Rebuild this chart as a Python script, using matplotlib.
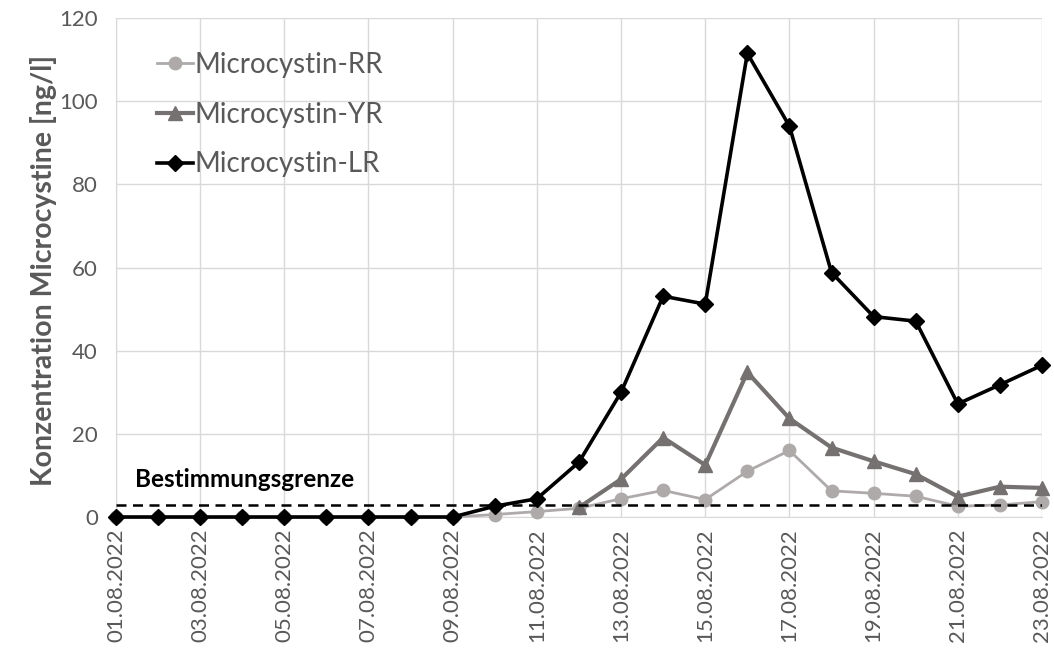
import matplotlib
matplotlib.use("Agg")
import matplotlib.pyplot as plt
import numpy as np

dates = ["%02d.08.2022" % d for d in range(1, 24)]
rr = [0, 0, 0, 0, 0, 0, 0, 0, 0, 0.6, 1.3, 2.1, 4.4, 6.4, 4.2, 11.0, 16.0, 6.3, 5.7, 5.0, 2.6, 2.9, 3.7]
yr = [np.nan] * 11 + [2.3, 9.1, 19.1, 12.5, 34.8, 23.7, 16.7, 13.4, 10.3, 4.9, 7.3, 7.0]
lr = [0, 0, 0, 0, 0, 0, 0, 0, 0, 2.6, 4.4, 13.2, 30.0, 53.1, 51.2, 111.5, 94.0, 58.8, 48.2, 47.1, 27.2, 31.8, 36.5]
limit = 3.0
limit_label = "Bestimmungsgrenze"
yticks = [0, 20, 40, 60, 80, 100, 120]

plt.rcParams['font.family'] = ['Lato', 'DejaVu Sans']

fig = plt.figure(figsize=(10.54, 6.62), dpi=100)
ax = fig.add_axes([0.110, 0.219, 0.8786, 0.7538])

x = np.arange(len(dates))
ax.plot(x, rr, color="#AEAAAA", lw=2.0, marker="o", ms=9, label="Microcystin-RR", zorder=3, clip_on=False)
ax.plot(x, yr, color="#767171", lw=3.0, marker="^", ms=10, label="Microcystin-YR", zorder=4, clip_on=False)
ax.plot(x, lr, color="#000000", lw=2.6, marker="D", ms=8.5, label="Microcystin-LR", zorder=5, clip_on=False)
ax.axhline(limit, color="black", lw=1.8, ls=(0, (4, 2.6)), zorder=6)
ax.text(0.45, limit + 3.3, limit_label, fontsize=17.5, fontweight="bold", color="black", ha="left", va="bottom")

ax.set_xlim(0, len(dates) - 1)
ax.set_ylim(0, 120)
ax.set_yticks(yticks)
ax.set_xticks(x[::2])
ax.set_xticklabels(dates[::2], rotation=90, fontsize=16, color="#595959")
ax.tick_params(axis="y", labelsize=16, labelcolor="#595959", length=0, pad=13)
ax.tick_params(axis="x", length=0, pad=8)
ax.grid(True, color="#D9D9D9", lw=1.0, zorder=0)
ax.set_axisbelow(True)
for s in ax.spines.values():
    s.set_visible(False)
ax.spines["bottom"].set_visible(True)
ax.spines["bottom"].set_color("#D9D9D9")
ax.spines["left"].set_visible(True)
ax.spines["left"].set_color("#D9D9D9")

ax.set_ylabel("Konzentration Microcystine [ng/l]", fontsize=20.5, fontweight="bold", color="#595959")
ax.yaxis.set_label_coords(-0.064, 0.495)

leg = ax.legend(loc="upper left", bbox_to_anchor=(0.026, 0.965), frameon=False, fontsize=20,
                handlelength=1.3, handletextpad=0.05, labelspacing=0.85, borderaxespad=0.2)
for t in leg.get_texts():
    t.set_color("#595959")

fig.savefig("out.png", dpi=100)
